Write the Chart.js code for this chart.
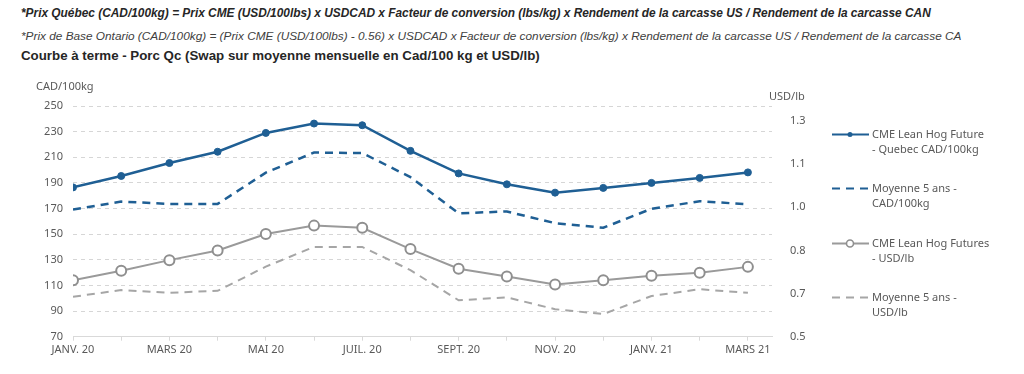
<!DOCTYPE html>
<html>
<head>
<meta charset="utf-8">
<script src="https://cdn.jsdelivr.net/npm/chart.js@4.4.1/dist/chart.umd.min.js"></script>
<style>
  html, body { margin: 0; padding: 0; background: #ffffff; }
  body { width: 1024px; height: 374px; position: relative; overflow: hidden; }
  #chart { position: absolute; left: 0; top: 0; }
  .hdr { position: absolute; left: 21px; white-space: nowrap; font-family: "Liberation Sans", Arial, sans-serif; }
  #h1 { top: 6px; font-size: 11.88px; font-weight: bold; font-style: italic; color: #262626; }
  #h2 { top: 29px; font-size: 11.82px; font-style: italic; color: #404040; }
  #h3 { top: 48px; font-size: 13.3px; font-weight: bold; color: #262626; }
  .unit { position: absolute; font-family: "Noto Sans", sans-serif; font-size: 11px; color: #595959; white-space: nowrap; line-height: 14px; }
  #legend { position: absolute; left: 831px; top: 0; font-family: "Noto Sans", sans-serif; font-size: 11px; color: #595959; }
  .li { position: absolute; left: 0; width: 190px; }
  .li svg { position: absolute; left: 0; top: 0; }
  .li .t { position: absolute; left: 41px; top: -7px; line-height: 14.5px; white-space: nowrap; }
</style>
</head>
<body>
<div class="hdr" id="h1">*Prix Québec (CAD/100kg) = Prix CME (USD/100lbs) x USDCAD x Facteur de conversion (lbs/kg) x Rendement de la carcasse US / Rendement de la carcasse CAN</div>
<div class="hdr" id="h2">*Prix de Base Ontario (CAD/100kg) = (Prix CME (USD/100lbs) - 0.56) x USDCAD x Facteur de conversion (lbs/kg) x Rendement de la carcasse US / Rendement de la carcasse CA</div>
<div class="hdr" id="h3">Courbe à terme - Porc Qc (Swap sur moyenne mensuelle en Cad/100 kg et USD/lb)</div>
<canvas id="chart" width="1024" height="374"></canvas>
<div class="unit" id="uL" style="left:36px; top:79px;">CAD/100kg</div>
<div class="unit" id="uR" style="left:769px; top:89px;">USD/lb</div>
<div id="legend"></div>
<script>
// ---- data ----
const months = ['JANV. 20','FÉVR. 20','MARS 20','AVR. 20','MAI 20','JUIN 20','JUIL. 20','AOÛT 20','SEPT. 20','OCT. 20','NOV. 20','DÉC. 20','JANV. 21','FÉVR. 21','MARS 21'];
const quebecCad = [186.5, 195.4, 205.5, 214.3, 229.0, 236.3, 235.0, 215.0, 197.4, 188.9, 182.4, 186.1, 190.0, 193.9, 198.2];
const avg5Cad   = [169.2, 175.4, 173.6, 173.6, 198.0, 213.7, 213.3, 194.5, 166.3, 167.7, 158.6, 155.0, 169.8, 175.7, 173.3];
const cmeUsd    = [0.709, 0.745, 0.784, 0.820, 0.881, 0.912, 0.904, 0.825, 0.752, 0.723, 0.694, 0.709, 0.726, 0.737, 0.759];
const avg5Usd   = [0.648, 0.673, 0.663, 0.670, 0.760, 0.833, 0.833, 0.747, 0.635, 0.646, 0.602, 0.584, 0.651, 0.676, 0.663];
const leftTicks  = [70, 90, 110, 130, 150, 170, 190, 210, 230, 250];
const rightTicks = [0.5, 0.66, 0.82, 0.98, 1.14, 1.30];
const seriesNames = [
  ['CME Lean Hog Future', '- Quebec CAD/100kg'],
  ['Moyenne 5 ans -', 'CAD/100kg'],
  ['CME Lean Hog Futures', '- USD/lb'],
  ['Moyenne 5 ans -', 'USD/lb']
];

const BLUE = '#1f5f94';
const GREY = '#9a9a9a';
const GREYD = '#a6a6a6';
const toPts = arr => arr.map((v, i) => ({ x: i, y: v }));
const FONT = { family: '"Noto Sans", sans-serif', size: 11 };

const chart = new Chart(document.getElementById('chart'), {
  type: 'line',
  data: {
    datasets: [
      { label: seriesNames[0].join(' '), data: toPts(quebecCad), yAxisID: 'y', borderColor: BLUE, backgroundColor: BLUE,
        borderWidth: 2.5, pointRadius: 3.5, pointBackgroundColor: BLUE, pointBorderColor: BLUE, pointBorderWidth: 1, tension: 0 },
      { label: seriesNames[1].join(' '), data: toPts(avg5Cad), yAxisID: 'y', borderColor: BLUE, borderWidth: 2.5,
        borderDash: [8, 6], pointRadius: 0, tension: 0 },
      { label: seriesNames[2].join(' '), data: toPts(cmeUsd), yAxisID: 'y1', borderColor: GREY, borderWidth: 2,
        pointRadius: 5, pointBackgroundColor: '#ffffff', pointBorderColor: '#8f8f8f', pointBorderWidth: 2, tension: 0 },
      { label: seriesNames[3].join(' '), data: toPts(avg5Usd), yAxisID: 'y1', borderColor: GREYD, borderWidth: 2,
        borderDash: [8, 6], pointRadius: 0, tension: 0 }
    ]
  },
  options: {
    responsive: false,
    animation: false,
    devicePixelRatio: 1,
    layout: { padding: { left: 0, top: 106, right: 192, bottom: 0 } },
    plugins: { legend: { display: false }, tooltip: { enabled: false } },
    scales: {
      x: {
        type: 'linear', min: 0, max: 14.5,
        afterBuildTicks: s => { s.ticks = months.map((_, i) => ({ value: i })); },
        afterFit: s => { s.height = 37.3; },
        grid: { drawOnChartArea: false, drawTicks: true, tickLength: 4, color: '#d9d9d9' },
        border: { display: true, color: '#d9d9d9', width: 1 },
        ticks: { autoSkip: false, maxRotation: 0, padding: 3, color: '#595959', font: FONT,
          callback: v => (v % 2 === 0 ? months[v] : '') }
      },
      y: {
        position: 'left', min: 70, max: 250,
        afterBuildTicks: s => { s.ticks = leftTicks.map(v => ({ value: v })); },
        afterFit: s => { s.width = 73; },
        grid: { drawTicks: false, color: '#d6d6d6', lineWidth: 1, dash: [4, 4], borderDash: [4, 4] },
        border: { display: false, dash: [4, 4] },
        ticks: { padding: 10, color: '#595959', font: FONT }
      },
      y1: {
        position: 'right', min: 0.5, max: 0.5 + 230.7 / 269.6,
        afterBuildTicks: s => { s.ticks = rightTicks.map(v => ({ value: v })); },
        afterFit: s => { s.width = 60; },
        grid: { display: false, drawOnChartArea: false },
        border: { display: false },
        ticks: { padding: 10, color: '#595959', font: FONT, callback: v => Number(v).toFixed(1) }
      }
    }
  }
});

// ---- HTML legend built from dataset styles ----
const legend = document.getElementById('legend');
const legendY = [134, 188, 243, 297];
chart.data.datasets.forEach((ds, i) => {
  const li = document.createElement('div');
  li.className = 'li';
  li.style.top = legendY[i] + 'px';
  const dash = ds.borderDash ? `stroke-dasharray="${ds.borderDash.join(' ')}"` : '';
  let marker = '';
  if (i === 0) marker = `<circle cx="19" cy="0.5" r="2.5" fill="${BLUE}"/>`;
  if (i === 2) marker = `<circle cx="19" cy="0.5" r="3.5" fill="#fff" stroke="#8f8f8f" stroke-width="1.6"/>`;
  li.innerHTML = `<svg width="40" height="12" viewBox="0 -6 40 12" style="top:-6px"><line x1="1" y1="0.5" x2="38" y2="0.5" stroke="${ds.borderColor}" stroke-width="${i < 2 ? 2.2 : 1.8}" ${dash}/>${marker}</svg>` +
    `<div class="t">${seriesNames[i][0]}<br>${seriesNames[i][1]}</div>`;
  legend.appendChild(li);
});
</script>
</body>
</html>
